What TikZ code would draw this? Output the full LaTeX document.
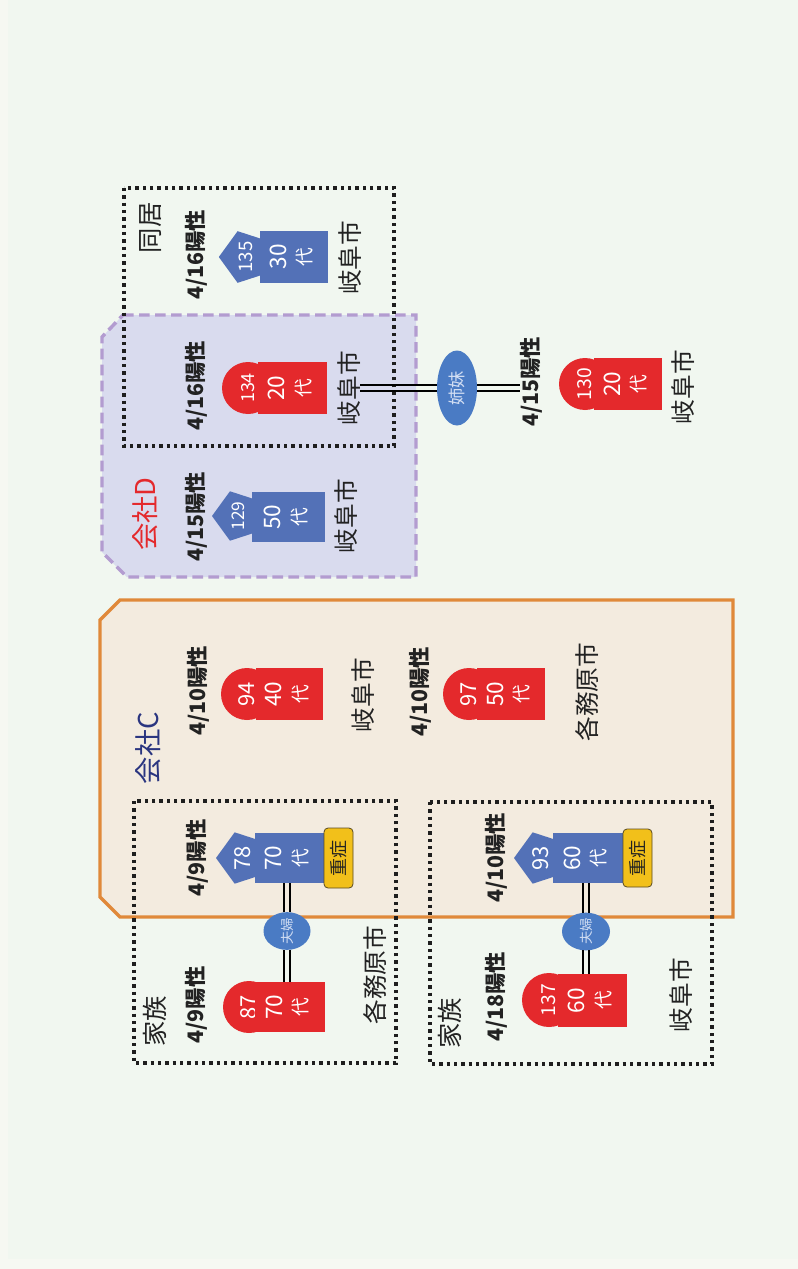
\documentclass[tikz,border=0pt]{standalone}
\usepackage{fontspec}
\usepackage{graphicx}
\setmainfont{Noto Sans CJK JP}
\usetikzlibrary{shapes.geometric}
\definecolor{bgm}{HTML}{F1F7F0}
\definecolor{bgedge}{HTML}{F6F8F2}
\definecolor{lav}{HTML}{D9DBEE}
\definecolor{lavline}{HTML}{B39CD0}
\definecolor{beige}{HTML}{F3EBDF}
\definecolor{orng}{HTML}{E0893A}
\definecolor{pred}{HTML}{E4292C}
\definecolor{pblue}{HTML}{5371B7}
\definecolor{relblue}{HTML}{4A7BC4}
\definecolor{relt}{HTML}{D2DEF3}
\definecolor{sevy}{HTML}{F2C01A}
\definecolor{sevb}{HTML}{5A4A20}
\definecolor{txt}{HTML}{222222}
\definecolor{navy}{HTML}{2A3580}
\definecolor{dotc}{HTML}{1E1E1E}
\newcommand\FS[1]{\fontsize{#1}{#1}\selectfont}
\newcommand\agetext[1]{\rotatebox{90}{\fontsize{17}{19}\selectfont\begin{tabular}{@{}c@{}}#1\\{\fontsize{14}{19}\selectfont 代}\end{tabular}}}
\newcommand\rt[1]{\rotatebox{90}{#1}}
\tikzset{
  every node/.style={inner sep=0pt, outer sep=0pt},
  sz/.style 2 args={minimum width=#1*0.75pt, minimum height=#2*0.75pt},
  datelbl/.style={rotate=90, font=\bfseries\FS{16}, text=txt},
  citylbl/.style={rotate=90, font=\FS{18.5}, text=txt},
  grouplbl/.style={rotate=90, font=\FS{19}, text=txt},
  agebox/.style={rectangle, fill=#1, text=white},
  badgec/.style={circle, fill=pred, minimum size=39pt, text=white},
  badgep/.style={regular polygon, regular polygon sides=5, shape border rotate=90, fill=pblue, minimum size=40.5pt, text=white},
  sevbox/.style={rectangle, rounded corners=3pt, fill=sevy, draw=sevb, line width=0.6pt, text=txt, font=\FS{13.5}},
  relnode/.style={ellipse, fill=relblue, text=relt},
  dotbox/.style={draw=dotc, line width=2.8pt, dash pattern=on 2.6pt off 2.9pt},
  ln/.style={draw=black, line width=1.4pt},
}
\begin{document}
\begin{tikzpicture}[x=0.75pt,y=-0.75pt]
\useasboundingbox (0,0) rectangle (798,1269);
\fill[bgedge] (0,0) rectangle (798,1269);
\fill[bgm] (8,0) rectangle (798,1259);

% company D
\draw[fill=lav, draw=lavline, line width=2.6pt, dash pattern=on 8pt off 4pt]
  (123,315) -- (416,315) -- (416,577) -- (127,577) -- (102,552) -- (102,337) -- cycle;
% company C
\draw[fill=beige, draw=orng, line width=2.4pt]
  (120,600) -- (733,600) -- (733,917) -- (120,917) -- (100,897) -- (100,620) -- cycle;
% grouping boxes
\draw[dotbox] (124,188) rectangle (394,446);
\draw[dotbox] (134,801) rectangle (396,1063);
\draw[dotbox] (430,802) rectangle (712,1064);

% ---- group 同居 / D
\node[grouplbl] (g1) at (151,228) {同居};
\node[datelbl] (d135) at (196,255) {4/16陽性};
\node[badgep] (p135) at (246,257) {\rt{\FS{14}135}};
\node[agebox=pblue, sz={68}{52}] (r135) at (294,257) {\agetext{30}};
\node[citylbl] (c135) at (350,258) {岐阜市};

\node[datelbl] (d134) at (196,386) {4/16陽性};
\node[badgec] (b134) at (248,388) {\rt{\FS{13.5}134}};
\node[agebox=pred, sz={69}{52}] (r134) at (292.5,388) {\agetext{20}};
\node[citylbl] (c134) at (349,388) {岐阜市};

\node[rotate=90, font=\FS{20.5}, text=pred] (gD) at (145,514) {会社D};
\node[datelbl] (d129) at (196,517) {4/15陽性};
\node[badgep, minimum size=39pt] (p129) at (238,516) {\rt{\FS{13}129}};
\node[agebox=pblue, sz={73}{50}] (r129) at (288.5,517) {\agetext{50}};
\node[citylbl] (c129) at (346,516) {岐阜市};

\node[relnode, sz={40}{75}] (sis) at (457,388) {\rt{\FS{13}姉妹}};
\node[datelbl] (d130) at (531,382) {4/15陽性};
\node[badgec] (b130) at (585,384) {\rt{\FS{14.5}130}};
\node[agebox=pred, sz={68}{52}] (r130) at (628,384) {\agetext{20}};
\node[citylbl] (c130) at (683,387) {岐阜市};

\foreach \s in {-2pt,2pt}{
  \draw[ln] ([yshift=\s]c134.south) -- ([yshift=\s]sis.west);
  \draw[ln] ([yshift=\s]sis.east) -- ([yshift=\s]sis.east -| d130.north);
}

% ---- company C
\node[rotate=90, font=\FS{20.5}, text=navy] (gC) at (148,748) {会社C};
\node[datelbl] (d94) at (198,691) {4/10陽性};
\node[badgec] (b94) at (247,694) {\rt{\FS{16.5}94}};
\node[agebox=pred, sz={67}{52}] (r94) at (289.5,694) {\agetext{40}};
\node[citylbl] (c94) at (363,695) {岐阜市};

\node[datelbl] (d97) at (420,692) {4/10陽性};
\node[badgec] (b97) at (469,694) {\rt{\FS{16.5}97}};
\node[agebox=pred, sz={68}{52}] (r97) at (511,694) {\agetext{50}};
\node[citylbl] (c97) at (587,692) {各務原市};

% ---- family 1
\node[datelbl] (d78) at (197,858) {4/9陽性};
\node[badgep] (p78) at (243,858) {\rt{\FS{16.5}78}};
\node[agebox=pblue, sz={69}{50}] (r78) at (289.5,858) {\agetext{70}};
\node[sevbox, sz={29}{60}] (s78) at (338.5,858) {\rt{重症}};
\node[relnode, sz={47}{31}] (f1) at (287,931) {\rt{\FS{10}夫婦}};
\node[badgec] (b87) at (249,1007) {\rt{\FS{16.5}87}};
\node[agebox=pred, sz={70}{50}] (r87) at (290,1007) {\agetext{70}};
\node[datelbl] (d87) at (196,1005) {4/9陽性};
\node[grouplbl] (g2) at (155,1021) {家族};
\node[citylbl] (c87) at (375,975) {各務原市};
\foreach \s in {-2pt,2pt}{
  \draw[ln] ([xshift=\s]f1.north |- r78.south) -- ([xshift=\s]f1.north);
  \draw[ln] ([xshift=\s]f1.south) -- ([xshift=\s]f1.south |- r87.north);
}

% ---- family 2
\node[datelbl] (d93) at (496,858) {4/10陽性};
\node[badgep] (p93) at (541,858) {\rt{\FS{16.5}93}};
\node[agebox=pblue, sz={70}{50}] (r93) at (588,858) {\agetext{60}};
\node[sevbox, sz={29}{58}] (s93) at (637.5,858) {\rt{重症}};
\node[relnode, sz={48}{31}] (f2) at (586,931.5) {\rt{\FS{10}夫婦}};
\node[badgec, minimum size=40.5pt] (b137) at (549,1000) {\rt{\FS{14.5}137}};
\node[agebox=pred, sz={69}{53}] (r137) at (592.5,1000.5) {\agetext{60}};
\node[datelbl] (d137) at (496,997) {4/18陽性};
\node[grouplbl] (g3) at (450,1023) {家族};
\node[citylbl] (c137) at (681,995) {岐阜市};
\foreach \s in {-2pt,2pt}{
  \draw[ln] ([xshift=\s]f2.north |- r93.south) -- ([xshift=\s]f2.north);
  \draw[ln] ([xshift=\s]f2.south) -- ([xshift=\s]f2.south |- r137.north);
}
\end{tikzpicture}
\end{document}
